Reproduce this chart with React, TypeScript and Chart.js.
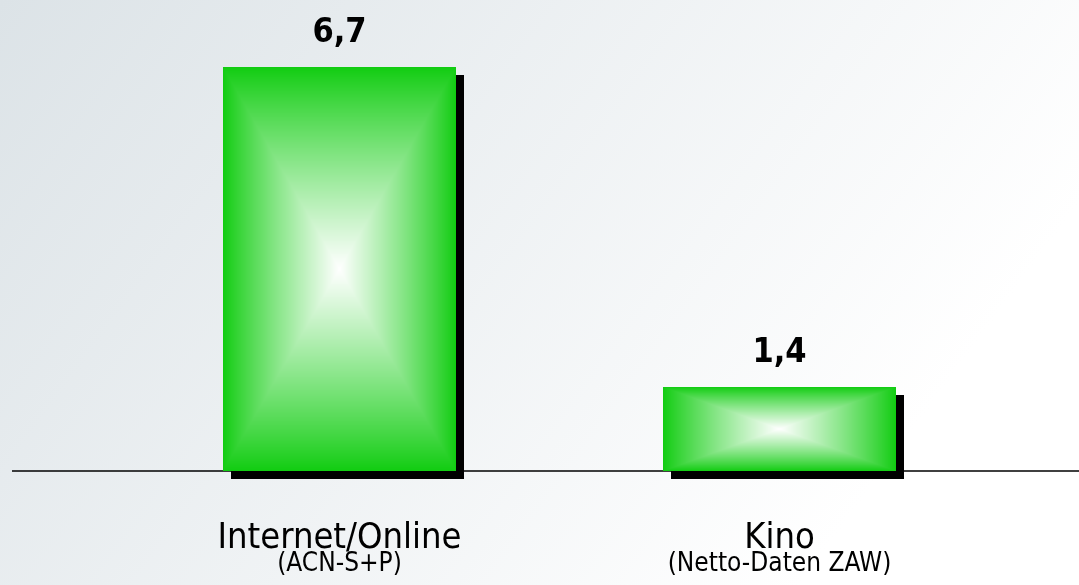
import React, { useEffect, useRef } from "react";
import { Chart, registerables } from "chart.js";

Chart.register(...registerables);

const categories = ["Internet/Online", "Kino"];
const sources = ["(ACN-S+P)", "(Netto-Daten ZAW)"];
const values = [6.7, 1.4];

const FONT = '"DejaVu Sans Condensed", "DejaVu Sans", Verdana, sans-serif';
const GREEN = [16, 204, 16];

function makeBarImage(w: number, h: number): HTMLCanvasElement {
  const c = document.createElement("canvas");
  c.width = w;
  c.height = h;
  const cctx = c.getContext("2d")!;
  const img = cctx.createImageData(w, h);
  const hw = w / 2, hh = h / 2;
  for (let j = 0; j < h; j++) {
    for (let i = 0; i < w; i++) {
      const dx = Math.abs(i + 0.5 - hw) / hw;
      const dy = Math.abs(j + 0.5 - hh) / hh;
      const t = Math.max(dx, dy);
      const s = Math.pow(Math.max(0, 1 - t), 0.9);
      const k = (j * w + i) * 4;
      img.data[k] = GREEN[0] + (255 - GREEN[0]) * s;
      img.data[k + 1] = GREEN[1] + (255 - GREEN[1]) * s;
      img.data[k + 2] = GREEN[2] + (255 - GREEN[2]) * s;
      img.data[k + 3] = 255;
    }
  }
  cctx.putImageData(img, 0, 0);
  return c;
}

const customPlugin = {
  id: "custom",
  beforeDraw(chart: any) {
    const ctx = chart.ctx as CanvasRenderingContext2D;
    const w = chart.width, h = chart.height;
    ctx.save();
    const g = ctx.createLinearGradient(0, 0, 800, 585);
    g.addColorStop(0, "#dce3e7");
    g.addColorStop(1, "#ffffff");
    ctx.fillStyle = g;
    ctx.fillRect(0, 0, w, h);
    const y0 = chart.scales.y.getPixelForValue(0);
    ctx.strokeStyle = "#000";
    ctx.lineWidth = 1.5;
    ctx.beginPath();
    ctx.moveTo(12, y0);
    ctx.lineTo(w, y0);
    ctx.stroke();
    ctx.restore();
  },
  afterDatasetsDraw(chart: any) {
    const ctx = chart.ctx as CanvasRenderingContext2D;
    const meta = chart.getDatasetMeta(0);
    ctx.save();
    meta.data.forEach((el: any, i: number) => {
      const { x, y, base, width } = el.getProps(["x", "y", "base", "width"], true);
      const x0 = Math.round(x - width / 2);
      const x1 = Math.round(x + width / 2);
      const top = Math.round(Math.min(y, base));
      const bot = Math.round(Math.max(y, base));
      const bw = x1 - x0, bh = bot - top;
      ctx.fillStyle = "#000";
      ctx.fillRect(x0 + 8, top + 8, bw, bh);
      ctx.drawImage(makeBarImage(bw, bh), x0, top);
      ctx.fillStyle = "#000";
      ctx.font = `bold 34px ${FONT}`;
      ctx.textAlign = "center";
      ctx.textBaseline = "alphabetic";
      ctx.fillText(values[i].toLocaleString("de-DE", { minimumFractionDigits: 1 }), x, top - 25);
    });
    const xs = chart.scales.x;
    const yb = chart.scales.y.getPixelForValue(0);
    categories.forEach((c, i) => {
      const px = xs.getPixelForValue(i);
      ctx.fillStyle = "#000";
      ctx.textAlign = "center";
      ctx.font = `36px ${FONT}`;
      ctx.fillText(c, px, yb + 77);
      ctx.font = `26px ${FONT}`;
      ctx.fillText(sources[i], px, yb + 100);
    });
    ctx.restore();
  },
};

export default function App() {
  const ref = useRef<HTMLCanvasElement>(null);
  useEffect(() => {
    if (!ref.current) return;
    const chart = new Chart(ref.current, {
      type: "bar",
      data: {
        labels: categories,
        datasets: [
          {
            data: values,
            backgroundColor: "rgba(0,0,0,0)",
            borderWidth: 0,
            categoryPercentage: 1,
            barPercentage: 0.53,
          },
        ],
      },
      options: {
        animation: false,
        responsive: true,
        maintainAspectRatio: false,
        layout: { padding: { top: 18.75, bottom: 114, left: 119.5, right: 79.5 } },
        plugins: { legend: { display: false }, tooltip: { enabled: false } },
        scales: {
          x: { display: false, offset: true },
          y: { display: false, min: 0, max: 7.5 },
        },
      },
      plugins: [customPlugin],
    });
    return () => chart.destroy();
  }, []);
  return (
    <div style={{ position: "fixed", left: 0, top: 0, width: 1079, height: 585 }}>
      <canvas ref={ref} />
    </div>
  );
}
